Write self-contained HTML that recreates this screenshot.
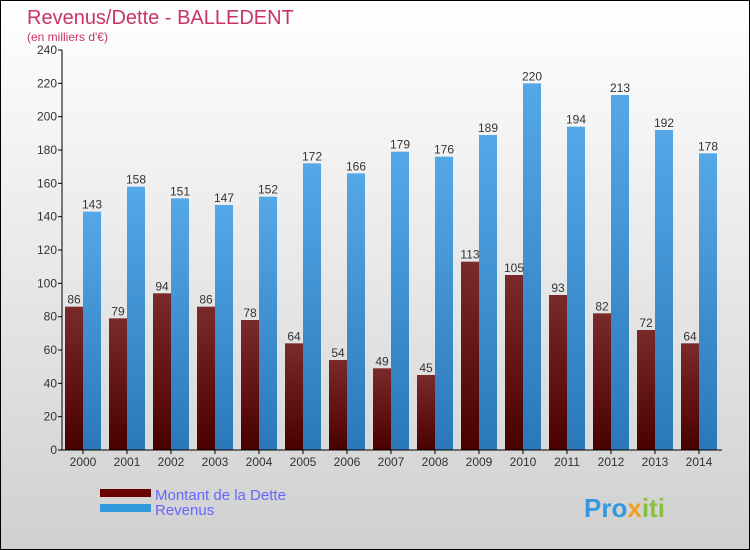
<!DOCTYPE html>
<html><head><meta charset="utf-8"><style>
body{margin:0}
#c{position:relative;width:748px;height:548px;border:1px solid #000;background:linear-gradient(#fff,#d0d0d0);font-family:"Liberation Sans",sans-serif;overflow:hidden}
</style></head><body>
<div id="c">
<svg id="s" width="748" height="548" style="position:absolute;left:0;top:0"></svg>
</div>
<script>
const years=["2000","2001","2002","2003","2004","2005","2006","2007","2008","2009","2010","2011","2012","2013","2014"];
const dette=[86,79,94,86,78,64,54,49,45,113,105,93,82,72,64];
const revenus=[143,158,151,147,152,172,166,179,176,189,220,194,213,192,178];
const ticks=[0,20,40,60,80,100,120,140,160,180,200,220,240];
const NS="http://www.w3.org/2000/svg";
const s=document.getElementById('s');
const X0=61,Y0=449,PH=400,MAX=240,GW=44;
const y=v=>Y0-v/MAX*PH;
const gx=i=>X0+1+i*GW;
function el(t,a,p){const e=document.createElementNS(NS,t);for(const k in a)e.setAttribute(k,a[k]);(p||s).appendChild(e);return e;}
const defs=el('defs',{});
const g1=el('linearGradient',{id:'gd',x1:0,y1:0,x2:0,y2:1},defs);
el('stop',{offset:0,'stop-color':'#7a2a2a'},g1);el('stop',{offset:1,'stop-color':'#4a0000'},g1);
const g2=el('linearGradient',{id:'gr',x1:0,y1:0,x2:0,y2:1},defs);
el('stop',{offset:0,'stop-color':'#55a8e8'},g2);el('stop',{offset:1,'stop-color':'#2a78b8'},g2);
let t=el('text',{x:26,y:23,'font-size':20,fill:'#c8336a'});t.textContent='Revenus/Dette - BALLEDENT';

t=el('text',{x:26,y:40,'font-size':12,fill:'#c8336a'});t.textContent="(en milliers d'€)";

ticks.forEach(v=>{
 const l=el('line',{x1:X0-4,x2:X0,y1:y(v),y2:y(v),stroke:'#000'});
 
 const tx=el('text',{x:X0-5,y:y(v)+4,'font-size':12,fill:'#333','text-anchor':'end'});tx.textContent=v;
 
});
years.forEach((yr,i)=>{
 const x=gx(i);
 const b1=el('rect',{x:x+2,y:y(dette[i]),width:18,height:Y0-y(dette[i]),fill:'url(#gd)'});
 
 const b2=el('rect',{x:x+20,y:y(revenus[i]),width:18,height:Y0-y(revenus[i]),fill:'url(#gr)'});
 
 const l1=el('text',{x:x+11,y:y(dette[i])-3,'font-size':12,fill:'#333','text-anchor':'middle'});l1.textContent=dette[i];
 
 const l2=el('text',{x:x+29,y:y(revenus[i])-3,'font-size':12,fill:'#333','text-anchor':'middle'});l2.textContent=revenus[i];
 
 const tk=el('line',{x1:x+20,x2:x+20,y1:Y0,y2:Y0+4,stroke:'#000'});
 
 const xl=el('text',{x:x+20,y:Y0+16,'font-size':12,fill:'#333','text-anchor':'middle'});xl.textContent=yr;
 
});
let a=el('line',{x1:X0,x2:X0,y1:y(240),y2:Y0,stroke:'#000'});
a=el('line',{x1:X0,x2:X0+GW*15,y1:Y0,y2:Y0,stroke:'#000'});
let r=el('rect',{x:99,y:488,width:51,height:8,fill:'#6a0000'});
r=el('rect',{x:99,y:503,width:51,height:8,fill:'#3399dd'});
t=el('text',{x:154,y:499,'font-size':15,fill:'#6666ff'});t.textContent='Montant de la Dette';
t=el('text',{x:154,y:514,'font-size':15,fill:'#6666ff'});t.textContent='Revenus';
t=el('text',{x:583,y:516,'font-size':26,'font-weight':'bold',fill:'#3399dd'});t.innerHTML='Pro<tspan fill="#f0a020">x</tspan><tspan fill="#88c040">iti</tspan>';

</script>
</body></html>
